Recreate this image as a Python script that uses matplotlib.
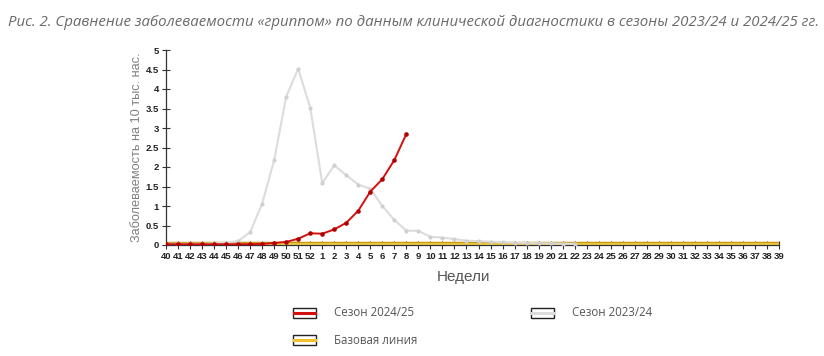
import numpy as np
import matplotlib
matplotlib.use("Agg")
import matplotlib.pyplot as plt
from matplotlib.patches import Rectangle
from matplotlib.lines import Line2D

# недели эпидсезона: 40..52, 1..39
weeks = [str(w) for w in list(range(40, 53)) + list(range(1, 40))]

# Сезон 2024/25 (до 8 недели)
season_2425 = [0.02, 0.02, 0.02, 0.02, 0.02, 0.02, 0.02, 0.02, 0.03,
               0.05, 0.08, 0.16, 0.30, 0.29, 0.40, 0.57, 0.88, 1.37,
               1.69, 2.18, 2.85]

# Сезон 2023/24 (до 22 недели)
season_2324 = [0.03, 0.03, 0.03, 0.03, 0.04, 0.06, 0.10, 0.33, 1.06,
               2.18, 3.80, 4.52, 3.52, 1.59, 2.04, 1.79, 1.55, 1.44,
               1.00, 0.64, 0.37, 0.36, 0.21, 0.19, 0.15, 0.11, 0.10,
               0.085, 0.07, 0.06, 0.05, 0.045, 0.04, 0.035, 0.03]

# базовая линия
baseline = [0.03] * len(weeks)

x = np.arange(len(weeks))

fig = plt.figure(figsize=(8.24, 3.56), dpi=100)
ax = fig.add_axes([166 / 824, 1 - 245 / 356, (779 - 166) / 824, (245 - 50) / 356])

ax.plot(x, baseline, color='#c99a10', lw=3.2, solid_capstyle='butt', zorder=2)
ax.plot(x, baseline, color='#f6d24a', lw=1.8, solid_capstyle='butt', zorder=2)
ax.plot(x[:len(season_2324)], season_2324, color='#dcdcdc', lw=1.5,
        marker='o', ms=2.0, mfc='#d0d0d0', mec='#d0d0d0', zorder=3)
ax.plot(x[:len(season_2425)], season_2425, color='#d40f0f', lw=1.4,
        marker='o', ms=2.3, mfc='#b00000', mec='#b00000', zorder=4)

ax.set_xlim(0, len(weeks) - 1)
ax.set_ylim(0, 5)
ax.set_xticks(x)
ax.set_xticklabels(weeks)
ax.set_yticks(np.arange(0, 5.01, 0.5))
ax.set_yticklabels(['0', '0.5', '1', '1.5', '2', '2.5', '3', '3.5', '4', '4.5', '5'])
for lab in ax.get_xticklabels() + ax.get_yticklabels():
    lab.set_fontfamily('Liberation Sans')
    lab.set_fontweight('bold')
    lab.set_fontsize(6.8)
    lab.set_color('#222222')
ax.tick_params(direction='inout', length=6, width=0.8, color='#333333', pad=2)
for s in ['top', 'right']:
    ax.spines[s].set_visible(False)
for s in ['left', 'bottom']:
    ax.spines[s].set_color('#333333')
    ax.spines[s].set_linewidth(0.9)
ax.patch.set_alpha(0)

fig.text(137 / 824, 1 - 147 / 356, 'Заболеваемость на 10 тыс. нас.', rotation=90,
         ha='center', va='center', fontsize=9.2, color='#808080', family='Liberation Sans')
fig.text(463 / 824, 1 - 277 / 356, 'Недели', ha='center', va='center',
         fontsize=11, color='#555555', family='Liberation Sans')

fig.text(8 / 824, 1 - 22 / 356,
         'Рис. 2. Сравнение заболеваемости «гриппом» по данным клинической диагностики в сезоны 2023/24 и 2024/25 гг.',
         ha='left', va='center', fontsize=10.8, style='italic', color='#6a6a6a', family='Open Sans')

# легенда
legend_items = [(293, 313, '#d40f0f', 'Сезон 2024/25'),
                (531, 313, '#dcdcdc', 'Сезон 2023/24'),
                (293, 340, '#f2c12e', 'Базовая линия')]
W, H = 824, 356
for px, py, col, txt in legend_items:
    fig.add_artist(Rectangle((px / W, 1 - (py + 5) / H), 23 / W, 10 / H,
                             transform=fig.transFigure, fc='white', ec='#222222', lw=1.0))
    fig.add_artist(Line2D([(px + 1) / W, (px + 22) / W], [1 - py / H, 1 - py / H],
                          transform=fig.transFigure, color=col, lw=2.2))
    fig.text((px + 41) / W, 1 - py / H, txt, ha='left', va='center', fontsize=8.3,
             color='#555555', family='Open Sans')

fig.savefig('out.png', dpi=100)
